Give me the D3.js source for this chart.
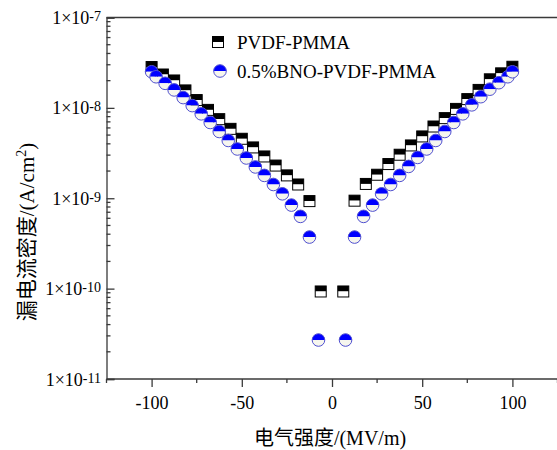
<!DOCTYPE html>
<html>
  <head>
    <script src="https://d3js.org/d3.v7.min.js"></script>
    <style>
      body { margin: 0; background: #fff; }
      text { font-family: "Liberation Serif", "Noto Sans CJK SC", serif; fill: #000; }
    </style>
  </head>
  <body>
    <div id="chart"></div>

    <script>
      // field strength (MV/m) and leakage current density (A/cm^2)
      const fieldPVDF = [-100, -93.75, -87.5, -81.25, -75, -68.75, -62.5, -56.25, -50, -43.75, -37.5, -31.25, -25, -18.75, -12.5, -6.25,
                         6.25, 12.5, 18.75, 25, 31.25, 37.5, 43.75, 50, 56.25, 62.5, 68.75, 75, 81.25, 87.5, 93.75, 100];
      const jPVDF = [2.83e-8, 2.34e-8, 2.01e-8, 1.56e-8, 1.22e-8, 9.5e-9, 7.5e-9, 5.86e-9, 4.55e-9, 3.65e-9, 2.9e-9, 2.3e-9, 1.79e-9, 1.42e-9, 9.3e-10, 9.3e-11,
                     9.3e-11, 9.4e-10, 1.44e-9, 1.82e-9, 2.39e-9, 3.03e-9, 3.84e-9, 4.83e-9, 6.22e-9, 7.7e-9, 9.74e-9, 1.25e-8, 1.58e-8, 2.07e-8, 2.41e-8, 2.85e-8];

      const fieldBNO = [-100, -97.5, -92.5, -87.5, -82.5, -77.5, -72.5, -67.5, -62.5, -57.5, -52.5, -47.5, -42.5, -37.5, -32.5, -27.5, -22.5, -17.5, -12.5, -7.5,
                        7.5, 12.5, 17.5, 22.5, 27.5, 32.5, 37.5, 42.5, 47.5, 52.5, 57.5, 62.5, 67.5, 72.5, 77.5, 82.5, 87.5, 92.5, 97.5, 100];
      const jBNO = [2.51e-8, 2.21e-8, 1.87e-8, 1.58e-8, 1.3e-8, 1.06e-8, 8.59e-9, 6.89e-9, 5.48e-9, 4.36e-9, 3.51e-9, 2.79e-9, 2.22e-9, 1.79e-9, 1.42e-9, 1.12e-9, 8.4e-10, 6.3e-10, 3.72e-10, 2.7e-11,
                    2.7e-11, 3.72e-10, 6.3e-10, 8.4e-10, 1.12e-9, 1.42e-9, 1.79e-9, 2.25e-9, 2.83e-9, 3.51e-9, 4.36e-9, 5.48e-9, 6.89e-9, 8.59e-9, 1.08e-8, 1.33e-8, 1.61e-8, 1.9e-8, 2.21e-8, 2.51e-8];

      const seriesNames = ["PVDF-PMMA", "0.5%BNO-PVDF-PMMA"];
      const xTicks = [-100, -50, 0, 50, 100];
      const xMinorTicks = [-125, -75, -25, 25, 75, 125];
      const yExponents = [-7, -8, -9, -10, -11];

      const width = 557;
      const height = 450;
      const axisColor = "#3a3a3a";

      const svg = d3.select("#chart")
        .append("svg")
        .attr("width", width)
        .attr("height", height);

      const x = d3.scaleLinear().domain([-125, 125]).range([106.5, 557.5]);
      const y = d3.scaleLog().domain([1e-11, 1e-7]).range([379, 17.5]);

      // axes
      const xAxis = svg.append("g")
        .attr("transform", `translate(0, ${y(1e-11)})`)
        .call(d3.axisBottom(x).tickValues(xTicks).tickSize(8).tickPadding(8).tickFormat(d => String(d)));
      xAxis.append("g").selectAll("line")
        .data(xMinorTicks)
        .enter()
        .append("line")
        .attr("x1", d => x(d)).attr("x2", d => x(d))
        .attr("y1", 0).attr("y2", 4);
      xAxis.select(".domain").attr("d", `M${x(-125)},0H${width}`);
      xAxis.selectAll("text").style("font-size", "18px").attr("dy", "0.75em");

      const minorY = [];
      for (let e = -11; e < -7; e++) {
        for (let m = 2; m <= 9; m++) minorY.push(m * Math.pow(10, e));
      }
      const yAxis = svg.append("g")
        .attr("transform", `translate(${x(-125)}, 0)`)
        .call(d3.axisRight(y).tickValues(yExponents.map(e => Math.pow(10, e))).tickSize(8).tickFormat(""));
      yAxis.append("g").selectAll("line")
        .data(minorY)
        .enter()
        .append("line")
        .attr("x1", 0).attr("x2", 4)
        .attr("y1", d => y(d)).attr("y2", d => y(d));

      svg.selectAll(".domain, .tick line").attr("stroke", axisColor).attr("stroke-width", 1.3);
      svg.selectAll("g > g > line").attr("stroke", axisColor).attr("stroke-width", 1.3);

      // top frame line
      svg.append("line")
        .attr("x1", x(-125)).attr("x2", width)
        .attr("y1", y(1e-7)).attr("y2", y(1e-7))
        .attr("stroke", axisColor).attr("stroke-width", 1.3);

      // y tick labels 1x10^n
      const yLab = svg.append("g").selectAll("text")
        .data(yExponents)
        .enter()
        .append("text")
        .attr("x", 101)
        .attr("y", d => y(Math.pow(10, d)) + 6.5)
        .attr("text-anchor", "end")
        .style("font-size", "18px");
      yLab.append("tspan").text("1×10");
      yLab.append("tspan").attr("dy", -3).style("font-size", "14px").text(d => "-" + Math.abs(d));

      // axis titles
      svg.append("text")
        .attr("x", 330)
        .attr("y", 445)
        .attr("text-anchor", "middle")
        .style("font-size", "20px")
        .text("电气强度/(MV/m)");

      const yTitle = svg.append("text")
        .attr("transform", "translate(34, 232) rotate(-90)")
        .attr("text-anchor", "middle")
        .style("font-size", "21px");
      yTitle.append("tspan").text("漏电流密度/(A/cm");
      yTitle.append("tspan").attr("dy", -8).style("font-size", "14px").text("2");
      yTitle.append("tspan").attr("dy", 8).text(")");

      // markers
      const sq = 11;
      const r = 6.3;
      const blue = "#0000ff";

      function squareMark(g) {
        g.append("rect").attr("x", -sq / 2).attr("y", -sq / 2).attr("width", sq).attr("height", sq / 2).attr("fill", "#000");
        g.append("rect").attr("x", -sq / 2).attr("y", 0).attr("width", sq).attr("height", sq / 2).attr("fill", "#fff");
        g.append("rect").attr("x", -sq / 2).attr("y", -sq / 2).attr("width", sq).attr("height", sq)
          .attr("fill", "none").attr("stroke", "#000").attr("stroke-width", 1);
      }
      function circleMark(g) {
        g.append("path").attr("d", `M${-r},0A${r},${r} 0 0 1 ${r},0Z`).attr("fill", blue);
        g.append("path").attr("d", `M${-r},0A${r},${r} 0 0 0 ${r},0Z`).attr("fill", "#f6f6ee");
        g.append("circle").attr("r", r).attr("fill", "none").attr("stroke", "#5050d0").attr("stroke-width", 1);
      }

      const pvdf = fieldPVDF.map((f, i) => ({ f: f, j: jPVDF[i] }));
      const bno = fieldBNO.map((f, i) => ({ f: f, j: jBNO[i] }));

      svg.append("g").selectAll("g")
        .data(pvdf)
        .enter()
        .append("g")
        .attr("transform", d => `translate(${x(d.f)}, ${y(d.j)})`)
        .each(function() { squareMark(d3.select(this)); });

      svg.append("g").selectAll("g")
        .data(bno)
        .enter()
        .append("g")
        .attr("transform", d => `translate(${x(d.f)}, ${y(d.j)})`)
        .each(function() { circleMark(d3.select(this)); });

      // legend
      const leg1 = svg.append("g").attr("transform", "translate(218, 42)");
      squareMark(leg1);
      svg.append("text").attr("x", 237).attr("y", 48.5).style("font-size", "19px").text(seriesNames[0]);
      const leg2 = svg.append("g").attr("transform", "translate(220, 71)");
      circleMark(leg2);
      svg.append("text").attr("x", 237).attr("y", 77.5).style("font-size", "19px").text(seriesNames[1]);
    </script>
  </body>
</html>
